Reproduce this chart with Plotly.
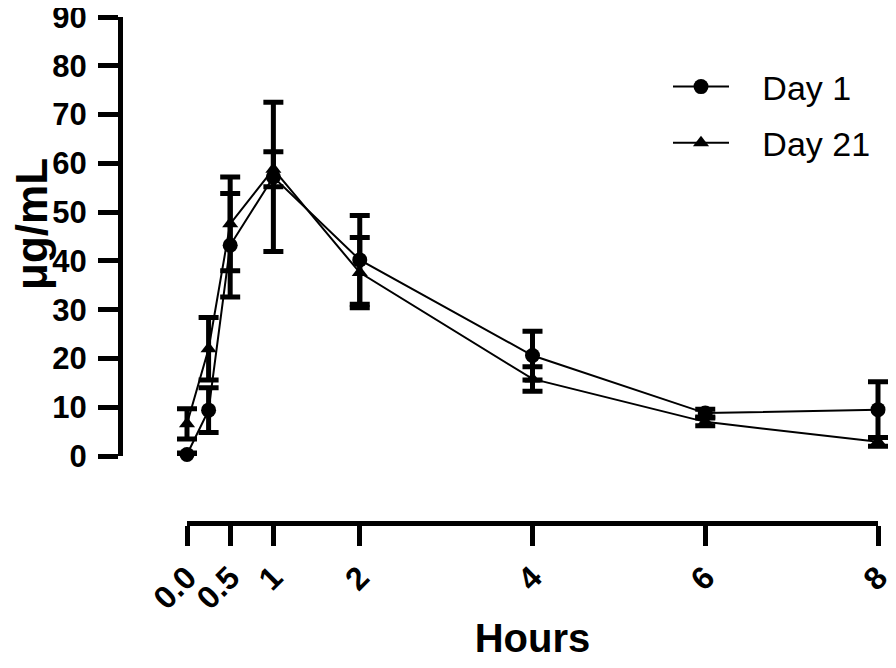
import plotly.graph_objects as go

hours = [0, 0.25, 0.5, 1, 2, 4, 6, 8]
day1_mean = [0.3, 9.4, 43.2, 57.2, 40.2, 20.6, 8.8, 9.5]
day1_sd = [0.3, 4.6, 10.6, 15.3, 9.1, 5.0, 0.8, 5.7]
day21_mean = [6.6, 22.0, 47.6, 58.8, 37.6, 15.8, 7.0, 2.9]
day21_sd = [3.1, 6.4, 9.6, 3.6, 7.2, 2.5, 0.8, 0.9]

x_tickvals = [0, 0.5, 1, 2, 4, 6, 8]
x_ticktext = ["0.0", "0.5", "1", "2", "4", "6", "8"]
y_tickvals = list(range(0, 91, 10))
y_title = "μg/mL"
x_title = "Hours"

FONT = "Arial, Liberation Sans, Helvetica, sans-serif"
PAD = "\u00a0\u00a0\u00a0"

fig = go.Figure()
# helper (draws nothing) so the display x axis has a subplot
fig.add_trace(go.Scatter(x=hours, y=day1_mean, mode="none", showlegend=False,
                         hoverinfo="skip", xaxis="x", yaxis="y"))
fig.add_trace(go.Scatter(
    x=hours, y=day1_mean, name=PAD + "Day 1", mode="lines+markers",
    line=dict(color="black", width=2),
    marker=dict(symbol="circle", size=15, color="black"),
    error_y=dict(type="data", array=day1_sd, visible=True,
                 color="black", thickness=5, width=10),
    cliponaxis=False, legendgroup="a", xaxis="x2", yaxis="y",
))
fig.add_trace(go.Scatter(
    x=hours, y=day21_mean, name=PAD + "Day 21", mode="lines+markers",
    line=dict(color="black", width=2),
    marker=dict(symbol="triangle-up", size=14, color="black"),
    error_y=dict(type="data", array=day21_sd, visible=True,
                 color="black", thickness=5, width=10),
    cliponaxis=False, legendgroup="b", xaxis="x2", yaxis="y",
))

# page has an 8px body margin: figure coords = page coords - 8
W, H = 880, 652
ml, mr, mt, mb = 112, 0, 9, 137
pw = W - ml - mr
ph = H - mt - mb
x0_px = 179
x8_px = 870
y0_px = 448
xline_px = H - mb
k = (x8_px - x0_px) / 8.0
left_h = -0.15
right_h = 8 + (W - mr - x8_px) / k

fig.update_layout(
    width=W, height=H,
    margin=dict(l=ml, r=mr, t=mt, b=mb, pad=0, autoexpand=False),
    paper_bgcolor="white", plot_bgcolor="white",
    font=dict(family=FONT, color="black"),
    showlegend=True,
    legend=dict(
        x=(660 - ml) / pw, y=(xline_px - 50) / ph, xanchor="left", yanchor="top",
        font=dict(size=34, family=FONT, color="black"),
        bgcolor="rgba(0,0,0,0)", itemwidth=56, traceorder="grouped",
        tracegroupgap=9,
    ),
    xaxis=dict(
        domain=[(x0_px - ml) / pw, (x8_px - ml) / pw], anchor="free", position=0,
        automargin=False, ticklabeloverflow="allow",
        range=[0, 8], tickmode="array", tickvals=x_tickvals, ticktext=x_ticktext,
        tickangle=-45, ticks="outside", ticklen=20, tickwidth=5, tickcolor="black",
        showline=True, linewidth=5, linecolor="black", showgrid=False, zeroline=False,
        tickfont=dict(size=32, family=FONT, color="black", weight="bold"),
        title=dict(text="<b>" + x_title + "</b>",
                   font=dict(size=40, family=FONT, color="black"), standoff=18),
    ),
    xaxis2=dict(
        domain=[(x0_px + left_h * k - ml) / pw, 1.0], anchor="y",
        range=[left_h, right_h], visible=False, showgrid=False, zeroline=False,
    ),
    yaxis=dict(
        domain=[(xline_px - y0_px) / ph, 1.0], anchor="free", position=0,
        automargin=False, ticklabeloverflow="allow",
        range=[0, 90], tickmode="array", tickvals=y_tickvals,
        ticks="outside", ticklen=20, tickwidth=5, tickcolor="black",
        ticklabelstandoff=5,
        showline=True, linewidth=5, linecolor="black", showgrid=False, zeroline=False,
        tickfont=dict(size=31, family=FONT, color="black", weight="bold"),
    ),
    annotations=[dict(
        text="<b>" + y_title + "</b>", textangle=-90, showarrow=False,
        xref="paper", yref="paper", x=(24 - ml) / pw, y=(xline_px - 216) / ph,
        xanchor="center", yanchor="middle",
        font=dict(size=44, family=FONT, color="black"),
    )],
)

fig.write_html("out.html")
